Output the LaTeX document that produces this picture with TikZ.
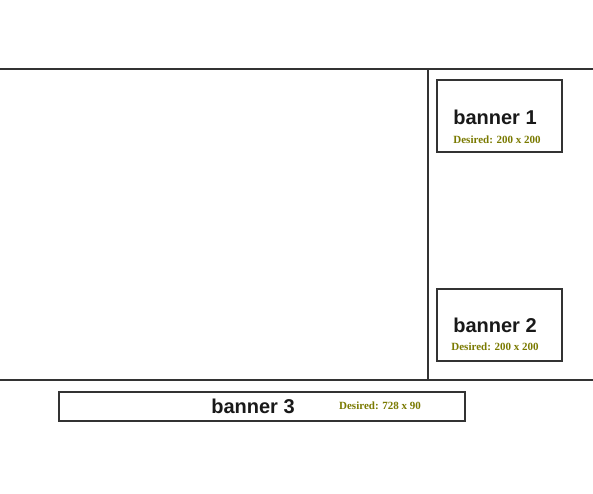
\documentclass[tikz,border=0pt]{standalone}
\usepackage{fontspec}
\setmainfont{Liberation Serif}
\newfontfamily\arialf{Liberation Sans}
\definecolor{linegray}{HTML}{333333}
\definecolor{desiredcol}{HTML}{7A7A00}
\begin{document}
\begin{tikzpicture}[x=1pt,y=-1pt,
  rule/.style={draw=linegray,line width=1.5pt},
  bannerbox/.style={draw=linegray,line width=1.5pt,fill=white},
  title/.style={font=\arialf\bfseries\fontsize{20}{22}\selectfont,text=black!90,inner sep=0pt},
  desired/.style={font=\bfseries\fontsize{11}{13}\selectfont,text=desiredcol,inner sep=0pt}]
\useasboundingbox (0,0) rectangle (593,493);
\coordinate (tl) at (0,69);
\coordinate (tr) at (593,69);
\coordinate (bl) at (0,380);
\coordinate (br) at (593,380);
\coordinate (vt) at (428,69);
\coordinate (vb) at (428,381);
\draw[rule] (tl) -- (tr);
\draw[rule] (bl) -- (br);
\draw[rule] (vt) -- (vb);
\node[bannerbox,minimum width=125pt,minimum height=72pt,inner sep=0pt] (b1) at (499.5,116) {};
\node[title] (t1) at (495,117) {banner 1};
\node[desired] (d1) at (497,140) {Desired: 200 x 200};
\node[bannerbox,minimum width=125pt,minimum height=72pt,inner sep=0pt] (b2) at (499.5,325) {};
\node[title] (t2) at (495,325) {banner 2};
\node[desired] (d2) at (495,347) {Desired: 200 x 200};
\node[bannerbox,minimum width=406pt,minimum height=29pt,inner sep=0pt] (b3) at (262,406.5) {};
\node[title] (t3) at (253,406) {banner 3};
\node[desired] (d3) at (380,406) {Desired: 728 x 90};
\end{tikzpicture}
\end{document}
